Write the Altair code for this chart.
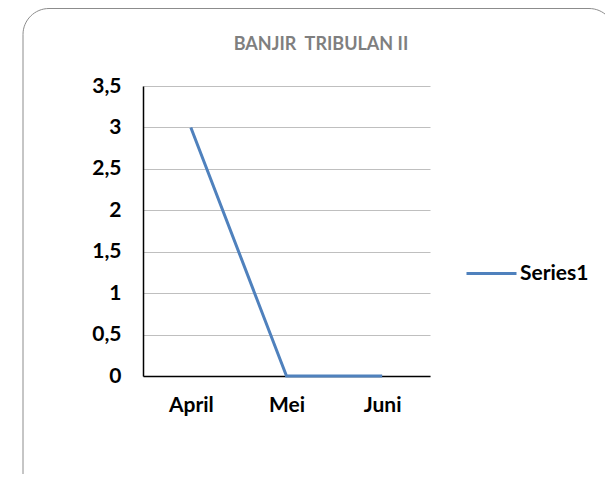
import altair as alt
import pandas as pd

months = ["April", "Mei", "Juni"]
values = [3, 0, 0]
series = ["Series1", "Series1", "Series1"]
title_text = "BANJIR\u00a0 TRIBULAN II"
y_ticks = [0, 0.5, 1, 1.5, 2, 2.5, 3, 3.5]

W, H = 287, 290
PAD_L, PAD_T = 135, 78
PAD_R, PAD_B = 597 - PAD_L - W, 466 - PAD_T - H

df = pd.DataFrame({"month": months, "value": values, "series": series})

font = "Lato"

border = alt.Chart(pd.DataFrame({"k": [0]})).mark_rect(
    fill="transparent", stroke="#8c8c8c", strokeWidth=1, cornerRadius=26
).encode(
    x=alt.value(-120), x2=alt.value(472),
    y=alt.value(-77.5), y2=alt.value(420)
)

title = alt.Chart(pd.DataFrame({"t": [title_text]})).mark_text(
    font=font, fontSize=18, fontWeight="bold", color="#7f7f7f",
    align="center", baseline="middle"
).encode(
    text="t:N", x=alt.value(178), y=alt.value(-41)
)

line = alt.Chart(df).mark_line(strokeWidth=3).encode(
    x=alt.X("month:N", sort=months,
            scale=alt.Scale(type="point", padding=0.5),
            axis=alt.Axis(title=None, labelAngle=0, ticks=False, grid=False,
                          domainColor="black", domainWidth=1.5,
                          labelFont=font, labelFontSize=21, labelFontWeight="bold",
                          labelColor="black", labelPadding=18)),
    y=alt.Y("value:Q", scale=alt.Scale(domain=[0, 3.5], nice=False),
            axis=alt.Axis(title=None, values=y_ticks, ticks=False,
                          labelExpr="replace(format(datum.value, ''), '.', ',')",
                          gridColor="#bfbfbf", gridWidth=1,
                          domainColor="black", domainWidth=1.5,
                          labelFont=font, labelFontSize=21, labelFontWeight="bold",
                          labelColor="black", labelPadding=22)),
    color=alt.Color("series:N", scale=alt.Scale(range=["#4f81bd"]),
                    legend=alt.Legend(title=None, orient="none", legendX=322, legendY=161,
                                      symbolType="stroke", symbolSize=2500,
                                      symbolStrokeWidth=3, labelFont=font,
                                      labelFontSize=21, labelFontWeight="bold",
                                      labelColor="black", labelOffset=2))
)

chart = alt.layer(border, line, title).properties(
    width=W, height=H,
    padding={"left": PAD_L, "top": PAD_T, "right": PAD_R, "bottom": PAD_B},
    autosize=alt.AutoSizeParams(type="none"),
    background="white"
).configure_view(strokeWidth=0)

chart.save("out.html", embed_options={"renderer": "svg", "actions": False})
